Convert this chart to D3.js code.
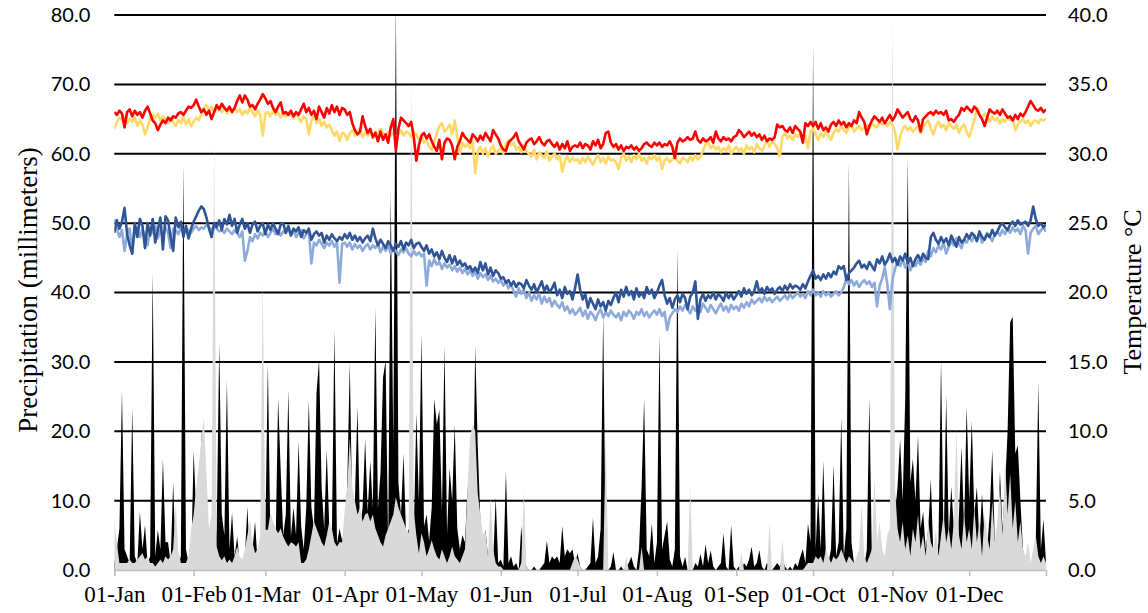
<!DOCTYPE html>
<html>
<head>
<meta charset="utf-8">
<script src="https://cdn.jsdelivr.net/npm/d3@7"></script>
<style>
  html, body { margin: 0; padding: 0; background: #fff; }
  svg { display: block; }
  .yLabels text { font-family: Lato, "Open Sans", sans-serif; font-size: 20px; fill: #000; }
  .xAxis text { font-family: "Liberation Serif", "Times New Roman", serif; font-size: 23px; fill: #000; }
  .axisTitle { font-family: "Liberation Serif", "Times New Roman", serif; font-size: 26px; fill: #000; }
</style>
</head>
<body>
<svg id="chart" width="1148" height="613"></svg>
<script>
/* global d3 */

// Daily values for one year, one row per month (Jan..Dec).
const PRECIP_TICKS = [0, 10, 20, 30, 40, 50, 60, 70, 80];
const TEMP_TICKS = [0, 5, 10, 15, 20, 25, 30, 35, 40];

// Precipitation, millimeters (left axis)
const RAIN_BLACK = [
  1,3,6,26,3,2,1,23.5,2,1,8.4,3,6.5,1,2,43,2,5.8,3,16,4,4,1,12.7,1,0.5,2,58.6,3,1,0.5,
  17.3,8,3,20.2,4,2,1,3,1,6,32.7,8,5,27.4,3,8.2,2,4.8,1,0.5,2,9.1,1,3,7,1,0.5,2,
  5,29.8,4,6.3,3,24.8,14.4,5,8,26,4.8,9,5,18.5,6.3,3,9,24.5,9,6,25.5,30.3,12,6,17.3,6,5,34.6,3.8,6,4.2,
  6,12,29.9,7.3,10,23.6,5.8,9,18.9,8.4,15.7,9,37.8,8.9,14,27.8,30.2,3.1,54.6,17.8,82,12.6,8,16.8,4.7,6,3,5,22.6,10,
  34.1,6.3,8,4.2,9,24.7,21,23.1,8.4,32.3,5.2,14.7,10,21,6,3,5,4,12,3,5,32.3,17.8,7.3,4,5.8,2,4.2,1,10.5,1,
  1.5,0.5,14.2,1,2,0.5,1,0,6.3,1,0.5,0,0,0.5,0,0,0.5,1,4.2,1,2,1.5,2,1,6.3,2,3,2.4,3,1,
  2.4,0.5,0,0,0.5,1,7.5,1,1.9,6,37,2,0,0.5,2.6,0,0,0.5,0,0.5,1,1.9,0.5,0,3,12,24.7,3,2,6.7,1,
  4,33.9,3,5,7,1.5,0.5,3,46.5,2,0.5,1.9,0,0.5,0,1,0.5,2.3,0.5,3.7,1,2.8,0.5,0,0.5,1,5.3,0.5,0,6.5,0.5,
  0,0.5,0,1,0.5,1.5,3.4,0.5,1,2.9,0.5,0,1,0.5,0,0.5,1,0.5,1.5,0.5,0,0.5,0,1,0.5,1.9,3,1,6.7,4,
  75.8,3,11,3,15.7,2,1,3,15.2,2,4,22,2,6,58.8,4,1,0.5,1,1,0.5,3,24.9,1,0.5,0,1,0.5,0,0.5,2,
  5,8,12,18.9,10,24.7,59.3,12.6,16,10,19.4,6,8.4,3,6,13.1,2,1,4,30.4,3,25.2,5,12,6,4,8,17.8,6,23.6,
  10,21.5,8,12,4,11,5,3,8,17.3,4,2,14.2,6,12,20,35.7,36.5,16.8,18,10,3,1,2,0.5,1,4,27,3,7.3,1,
];

const RAIN_GRAY = [
  7,4,1,1,1,1,1.5,1,1,1.5,2,2.4,1.5,2,1,1,0.5,1,1.5,1,2,1.5,2,3,9.6,3,1,1,1,2,5.8,
  8,12,15,18.7,22,14,6,8,62,3.4,2,1.4,2,1,1.5,1,2,3.4,2,1.5,3,5,7.2,4,2.4,3,5,42,
  5.8,5.8,8.2,7,6,5.3,6,4.8,4,3.4,4,3.8,3.4,4,1,1,1.5,3,5,7,6,5,4,3.4,5,7,6,4,3.4,4,4,
  8.6,12,19,12,10,8,9,7,8,8.2,7,8,6,5,4,3.4,5,6,7,8,10.5,9,8,7,6,5.3,71,8.6,5,2.4,
  5.3,4,2,3,4.3,3,2,1.5,3,2,1,2,3.4,2,1.5,1,2,3,12,19.2,21,20,11,8,5,5.8,2,10.5,3,1,0.5,
  0.5,0,0,0,0,0,0,0,1,11.5,0.5,0,0,0,0,0,0,0,0,0,0,0,0,0,0,0,0,0,1,2,
  1.5,0.5,0,0,0,0,0,0,0,0,0,19.7,0,0,0,0,0,0,0,1.9,0,0,0,0,0,3.3,0,0,0,0,0,
  0,0,0,0,0,0,0,0,0,0,0,0,0,12,0,0,0,0,0,0,0,0,0,0,0,0,0,0,0,0,0,
  0,0,2.6,0,0,0,0,0,0,0,0,0,0,6.7,0,0,0,0,4.3,0,0,0,0,0,0,0,0,0.5,1,1,
  1,2,1.5,2,1,3,2,1,2,1.5,2,3,2,1,2,1.5,1,2,3,9.4,2,1,2,3,13.6,4,7,3,2,5,6,
  80,12,6,4,7,3,5,2,6,4,8,3,5,2,7,4,3,6,2,5,8,4,6,3,7,20.5,5,3,8,4,
  6,3,9,4,7,2,8,5,3,10,4,7,12,5,16,8,14,6,10,4,7,3,2,4,1,3,5,2,1,2,1,
];

// Temperature, °C (right axis)
const TEMP_RED = [
  33.0,32.8,33.1,32.9,31.9,33.0,33.2,32.7,33.1,32.8,33.0,32.6,33.1,33.4,32.9,32.4,32.2,31.7,32.1,32.4,32.2,32.6,32.4,32.7,32.6,32.9,33.0,32.8,33.1,33.4,33.3,
  33.5,33.9,33.4,33.0,33.2,32.8,33.1,32.5,33.0,33.5,33.2,33.6,33.3,33.1,33.4,33.0,33.3,33.8,34.2,33.7,34.2,33.9,33.4,33.5,33.2,33.6,33.9,34.3,
  34.0,33.6,33.8,33.3,33.0,33.4,33.7,32.9,33.0,32.8,33.1,32.7,33.0,32.8,33.2,33.6,33.0,33.3,32.8,33.1,32.5,33.4,33.0,32.6,33.3,32.9,33.5,33.0,33.4,32.8,33.3,
  33.2,32.8,33.0,32.2,31.7,31.4,31.6,32.7,32.0,31.5,31.8,31.2,31.5,30.9,31.6,31.0,31.4,30.8,31.9,32.5,30.2,31.8,32.6,32.4,32.2,32.0,32.3,31.2,29.5,30.6,
  31.3,31.5,31.1,31.4,30.9,30.5,30.2,31.0,29.6,30.8,31.1,31.0,30.6,29.6,30.5,30.9,31.5,31.2,31.0,30.8,31.4,31.2,30.9,31.3,31.0,31.5,31.2,30.9,31.7,31.4,31.1,
  30.6,30.3,30.2,30.8,31.0,31.2,31.5,30.9,30.6,30.3,30.8,31.0,31.1,30.7,30.9,31.2,30.8,30.6,30.9,31.0,30.7,30.5,30.8,30.3,30.7,30.4,30.9,30.2,30.5,30.6,
  30.5,30.8,30.4,30.7,30.6,30.3,30.9,30.6,31.0,30.4,30.7,31.5,31.6,30.8,30.5,30.7,30.3,30.6,30.2,30.5,30.4,30.6,30.3,30.5,30.2,30.4,30.7,30.8,30.6,30.5,30.8,
  30.6,30.8,30.5,30.7,30.6,30.9,30.5,29.7,30.8,31.1,30.9,31.0,31.2,31.0,31.1,31.6,31.0,30.8,31.1,30.9,31.0,31.2,30.8,31.6,31.1,30.9,31.2,31.0,31.1,30.9,31.2,
  31.3,31.7,31.5,31.2,31.4,31.6,31.3,31.5,31.2,31.4,31.0,31.3,30.9,31.1,31.0,31.2,32.1,31.9,32.0,31.7,31.6,31.9,31.5,32.0,31.8,31.6,30.8,32.2,32.0,32.3,
  32.0,32.3,31.8,32.2,31.7,31.9,31.6,32.1,32.3,32.0,32.4,32.1,32.3,31.9,32.2,32.0,32.4,32.2,33.0,32.6,32.3,31.4,32.0,32.4,32.7,32.5,32.3,32.6,32.2,32.5,32.8,
  32.4,32.7,33.2,32.9,32.6,32.8,33.0,32.5,32.3,32.7,32.4,31.6,32.5,32.7,32.9,33.0,32.8,33.1,32.9,33.0,32.8,33.1,32.4,32.5,32.3,32.6,32.8,33.3,33.1,33.4,
  33.2,33.0,33.4,33.2,32.8,32.5,32.0,32.6,33.2,33.0,32.9,33.1,32.8,33.2,32.9,32.6,32.7,32.4,32.8,32.5,32.9,32.7,33.0,33.4,33.8,33.5,33.2,33.1,33.3,33.0,33.2,
];

const TEMP_YELLOW = [
  31.8,32.3,32.6,32.4,32.7,32.2,32.5,32.3,32.6,32.0,32.4,32.1,31.4,31.9,32.5,32.8,32.6,32.9,32.4,32.7,32.5,32.2,32.6,32.3,32.0,32.4,32.2,32.7,32.1,32.5,32.0,
  32.3,32.6,32.4,32.9,33.3,33.5,33.1,33.4,33.0,33.2,33.4,33.0,33.3,32.9,33.2,33.1,33.3,33.0,33.2,32.8,33.1,32.9,33.3,33.0,32.7,33.1,32.8,31.3,
  32.9,33.0,32.7,33.1,32.8,33.0,32.6,32.9,32.7,33.0,32.8,32.5,32.9,32.6,32.3,32.7,32.5,31.4,32.4,32.7,32.2,32.5,32.0,32.3,31.9,32.1,31.7,31.3,31.6,30.9,31.5,
  31.4,31.0,31.5,31.7,31.3,31.6,31.8,31.2,31.5,31.3,31.7,31.1,31.6,31.4,31.8,31.5,31.2,31.6,31.3,31.5,31.1,31.4,31.7,31.3,31.6,31.5,31.2,31.6,31.4,31.0,
  31.3,30.8,31.0,30.5,30.3,30.9,31.5,32.0,32.2,31.6,31.8,32.1,31.4,32.4,31.2,30.0,30.8,30.5,30.7,30.4,30.9,28.6,30.2,30.5,30.0,30.4,29.8,30.3,30.6,30.0,30.2,
  30.4,30.0,30.7,31.0,30.6,30.8,30.3,30.5,30.1,30.6,30.2,30.0,29.8,30.3,29.6,30.1,29.9,29.7,30.2,29.5,29.8,30.0,29.6,29.9,28.7,29.5,29.8,29.4,29.7,29.5,
  29.6,29.3,29.7,29.4,29.8,29.5,29.2,29.6,29.9,29.4,29.7,29.3,29.8,29.5,29.6,29.4,28.9,29.7,30.0,29.5,29.8,29.4,29.9,29.6,30.0,29.5,29.7,29.3,29.8,29.6,29.9,
  29.5,29.8,28.9,29.5,29.7,29.4,29.6,29.8,29.5,29.3,29.7,29.6,29.4,29.8,29.5,29.9,29.6,29.8,30.2,30.7,30.8,30.4,30.6,30.3,30.5,30.1,30.4,30.2,30.6,30.0,30.3,
  30.5,30.2,30.4,30.0,30.6,30.3,30.5,30.1,30.7,30.4,30.2,30.6,30.9,30.5,30.9,30.7,30.4,29.8,31.2,31.5,31.1,31.3,31.0,31.4,31.2,31.5,31.0,31.3,30.4,31.6,
  31.8,31.4,31.0,31.5,31.2,31.6,31.3,31.0,31.5,31.8,31.6,32.0,31.7,31.5,31.9,32.1,31.6,31.8,32.0,31.7,31.9,32.1,31.8,32.2,32.0,31.9,32.3,32.1,32.2,32.0,32.3,
  32.1,31.6,30.3,31.2,31.8,32.0,31.7,31.9,31.6,31.8,32.0,31.5,31.9,32.2,32.4,31.8,31.4,32.0,32.3,31.9,32.1,31.7,32.2,32.0,31.8,32.1,31.5,31.9,32.1,31.6,
  31.2,31.8,32.4,33.3,32.8,32.5,32.9,32.6,32.3,32.7,32.4,32.6,32.2,32.5,32.3,32.7,32.4,32.6,31.7,32.1,32.3,32.5,32.2,32.4,32.0,32.3,32.4,32.2,32.5,32.4,32.5,
];

const TEMP_DARKBLUE = [
  24.3,25.2,24.6,25.1,26.1,24.2,23.4,22.8,25.0,24.0,25.3,24.8,23.2,25.0,24.1,25.3,23.6,24.5,25.4,23.1,25.5,25.2,24.0,23.0,25.4,24.7,25.1,24.0,24.8,23.9,24.6,
  25.1,25.5,25.9,26.2,26.0,25.4,24.6,24.0,25.0,24.7,25.2,24.5,25.3,24.9,25.6,24.8,25.3,24.3,24.9,25.3,24.6,25.0,24.3,24.9,25.1,24.4,24.8,25.0,
  24.2,24.9,24.5,25.0,24.6,24.2,24.9,25.0,24.3,24.8,24.1,24.6,24.4,24.7,24.0,24.5,24.3,24.6,23.8,24.2,24.4,24.1,24.3,23.6,24.1,23.8,24.2,23.9,23.7,24.0,23.8,
  24.2,23.9,24.3,23.8,24.1,23.7,24.0,23.6,23.9,24.1,23.7,24.6,23.9,23.4,23.8,23.5,23.2,23.7,23.4,23.0,23.5,23.3,23.7,23.1,23.6,23.4,23.8,23.2,23.5,23.6,
  23.3,23.0,23.4,22.8,23.1,22.6,22.9,22.4,23.0,22.5,22.2,22.7,22.1,22.6,22.0,22.3,21.9,22.1,21.7,21.9,21.5,21.8,21.4,22.2,21.6,22.1,21.3,21.8,21.2,21.6,21.4,
  21.0,21.1,20.7,20.9,20.5,20.8,20.4,20.7,20.6,20.3,20.9,20.5,20.2,20.6,20.0,20.4,20.8,20.1,20.5,20.0,20.3,20.7,19.8,20.2,19.6,20.4,19.9,20.1,19.5,20.3,
  21.3,20.2,19.5,19.9,18.9,19.6,19.2,18.8,19.5,19.0,19.3,18.7,19.4,19.1,19.6,20.0,19.3,20.2,19.7,20.4,19.8,20.1,19.5,20.3,19.7,20.0,19.6,20.4,19.9,20.2,19.6,
  20.0,20.5,20.9,19.8,19.2,19.6,18.9,19.5,19.8,19.3,19.9,19.6,18.8,19.7,20.0,20.8,18.1,19.5,19.9,19.4,19.8,19.6,20.0,19.5,19.9,19.7,19.4,20.0,19.6,19.9,19.5,
  19.8,20.1,19.7,20.3,19.9,20.2,19.8,20.1,20.8,20.0,20.3,19.9,20.4,20.1,20.3,19.9,20.2,20.4,20.1,20.5,20.2,20.6,20.3,20.5,20.4,20.2,20.6,20.3,20.8,21.2,
  21.6,21.0,21.2,20.9,21.3,21.0,21.4,21.1,21.5,21.3,21.9,21.7,21.9,20.9,21.4,21.6,21.8,22.1,22.3,21.8,22.0,21.7,22.2,21.9,21.6,22.4,22.1,22.6,22.0,22.3,22.8,
  22.2,22.5,22.0,22.6,22.3,22.8,22.1,22.5,21.9,22.4,22.7,22.3,22.8,22.5,22.4,24.0,24.3,23.8,23.5,24.0,23.6,23.9,23.4,24.1,23.7,23.3,24.0,23.6,23.8,24.2,
  23.9,24.3,24.1,23.7,24.4,24.0,23.8,24.2,24.0,24.5,24.1,24.4,24.8,25.0,24.7,24.5,24.9,25.1,24.8,25.2,24.9,25.0,25.1,24.8,25.2,26.2,25.3,24.8,25.0,24.7,24.9,
];

const TEMP_LIGHTBLUE = [
  25.3,24.6,24.0,24.5,23.0,24.2,24.6,22.9,24.4,24.7,24.0,24.5,24.2,23.4,24.6,24.3,24.8,23.9,24.5,24.1,24.7,24.3,23.2,24.6,24.5,24.2,24.7,24.4,24.6,24.5,24.3,
  24.6,24.8,24.5,24.7,24.6,24.9,24.7,24.5,24.8,24.6,24.4,24.5,24.3,24.6,24.4,24.2,24.5,24.3,24.0,24.4,22.3,23.0,24.0,23.7,24.2,23.9,24.3,24.1,
  24.4,24.0,24.3,24.6,24.2,24.5,24.1,24.4,24.3,24.6,24.2,24.5,24.0,24.3,24.5,23.9,24.2,24.4,22.1,23.6,23.4,23.8,23.5,23.2,23.6,23.4,23.7,23.3,23.6,20.7,23.5,
  23.6,23.3,23.6,23.1,23.5,23.2,23.4,23.0,23.3,23.5,23.1,23.4,23.2,23.5,22.9,23.3,23.0,23.4,22.8,23.2,23.0,22.7,23.1,22.9,23.2,22.8,22.6,23.0,22.7,22.9,
  22.6,22.8,20.5,22.3,21.9,22.4,22.0,22.2,21.7,22.1,21.8,22.0,21.6,21.9,21.5,21.8,21.4,21.7,21.3,21.6,21.2,21.5,21.0,21.4,21.1,21.3,20.9,21.2,20.8,21.0,20.7,
  20.9,20.5,20.8,20.3,20.6,20.1,19.7,20.3,19.9,20.2,19.6,20.0,19.4,19.8,19.5,19.9,19.2,19.7,19.3,19.6,19.0,19.4,19.1,18.9,19.3,18.7,19.0,18.5,18.8,18.4,
  18.6,18.9,18.3,18.7,18.1,18.6,18.4,18.0,18.5,18.8,18.2,18.6,18.3,18.7,18.4,18.2,18.5,18.0,18.6,18.3,18.7,18.5,18.1,18.6,18.4,18.8,18.3,18.6,18.2,18.5,18.7,
  18.4,18.8,18.3,18.6,17.3,18.2,18.5,18.8,18.6,19.0,18.7,19.1,18.8,18.5,19.0,18.7,18.9,18.6,19.2,18.9,18.6,19.1,18.8,18.5,18.9,19.2,18.7,19.0,18.6,19.1,18.8,
  19.0,18.7,19.2,18.9,19.3,19.0,19.5,19.2,19.4,19.6,19.3,19.7,19.4,19.6,19.3,19.5,19.7,19.4,19.6,19.8,19.5,19.9,19.6,19.8,20.0,19.7,19.9,19.6,20.1,19.8,
  20.2,19.8,20.0,19.7,20.1,19.8,20.0,19.7,19.9,20.1,19.8,20.0,20.4,21.0,20.6,20.9,20.5,20.8,20.4,20.7,20.9,20.6,20.8,20.4,20.7,19.0,20.5,21.0,21.8,20.6,18.8,
  20.9,21.7,22.3,21.9,22.4,21.8,22.2,21.6,22.1,21.9,22.3,22.0,22.5,22.2,23.0,22.6,23.2,22.9,23.4,23.1,23.6,22.8,23.3,23.7,23.4,23.9,23.5,23.2,23.8,23.6,
  24.0,23.7,24.1,23.8,24.2,23.6,23.9,24.3,24.0,23.7,24.2,24.4,24.1,24.5,24.2,24.6,24.3,24.7,24.4,24.6,24.2,24.8,24.5,22.8,24.3,24.6,24.8,24.2,24.5,24.7,24.4,
];

function initChart() {
  const svg = d3.select("#chart");
  const plot = { left: 114.3, right: 1046, top: 15, bottom: 570 };

  const yearStart = new Date(Date.UTC(2021, 0, 1));
  const dayDate = (i) => d3.utcDay.offset(yearStart, i);

  const x = d3
    .scaleUtc()
    .domain([yearStart, dayDate(364)])
    .range([plot.left, plot.right]);
  const yRain = d3.scaleLinear().domain([0, 80]).range([plot.bottom, plot.top]);
  const yTemp = d3.scaleLinear().domain([0, 40]).range([plot.bottom, plot.top]);

  svg
    .append("defs")
    .append("clipPath")
    .attr("id", "plotClip")
    .append("rect")
    .attr("x", plot.left)
    .attr("y", plot.top)
    .attr("width", plot.right - plot.left)
    .attr("height", plot.bottom - plot.top);

  // Gridlines (behind the series)
  svg
    .append("g")
    .selectAll("line")
    .data(PRECIP_TICKS.filter((t) => t > 0))
    .join("line")
    .attr("x1", plot.left)
    .attr("x2", plot.right)
    .attr("y1", (d) => yRain(d))
    .attr("y2", (d) => yRain(d))
    .attr("stroke", "#000")
    .attr("stroke-width", 2);

  const series = svg.append("g").attr("clip-path", "url(#plotClip)");

  const area = d3
    .area()
    .x((d, i) => x(dayDate(i)))
    .y0(yRain(0))
    .y1((d) => yRain(d));

  series.append("path").datum(RAIN_BLACK).attr("d", area).attr("fill", "#000");
  series.append("path").datum(RAIN_GRAY).attr("d", area).attr("fill", "#d9d9d9");

  const line = d3
    .line()
    .x((d, i) => x(dayDate(i)))
    .y((d) => yTemp(d));

  [
    [TEMP_LIGHTBLUE, "#8eaadb"],
    [TEMP_DARKBLUE, "#2f5597"],
    [TEMP_YELLOW, "#ffd966"],
    [TEMP_RED, "#ff0000"],
  ].forEach(([values, color]) => {
    series
      .append("path")
      .datum(values)
      .attr("d", line)
      .attr("fill", "none")
      .attr("stroke", color)
      .attr("stroke-width", 2.6)
      .attr("stroke-linejoin", "round");
  });

  // X axis: month starts
  const xAxis = svg
    .append("g")
    .attr("class", "xAxis")
    .attr("transform", `translate(0,${plot.bottom})`)
    .call(
      d3
        .axisBottom(x)
        .ticks(d3.utcMonth.every(1))
        .tickFormat(d3.utcFormat("%d-%b"))
        .tickSize(6)
        .tickPadding(10),
    );
  xAxis.select(".domain").attr("stroke", "#bfbfbf").attr("stroke-width", 1.5);
  xAxis.selectAll(".tick line").attr("stroke", "#bfbfbf").attr("stroke-width", 1.5);
  xAxis.selectAll("text").attr("font-family", null).attr("font-size", null);

  const fmt = d3.format(".1f");

  const leftAxis = svg
    .append("g")
    .attr("class", "yLabels")
    .attr("transform", `translate(${plot.left},0)`)
    .call(d3.axisLeft(yRain).tickValues(PRECIP_TICKS).tickFormat(fmt).tickSize(0).tickPadding(24));
  leftAxis.select(".domain").remove();
  leftAxis.selectAll("text").attr("font-family", null).attr("font-size", null);

  const rightAxis = svg
    .append("g")
    .attr("class", "yLabels")
    .attr("transform", `translate(${plot.right},0)`)
    .call(d3.axisRight(yTemp).tickValues(TEMP_TICKS).tickFormat(fmt).tickSize(0).tickPadding(22));
  rightAxis.select(".domain").remove();
  rightAxis.selectAll("text").attr("font-family", null).attr("font-size", null);

  // Axis titles
  svg
    .append("text")
    .attr("class", "axisTitle")
    .attr("transform", "translate(37,290) rotate(-90)")
    .attr("text-anchor", "middle")
    .style("font-size", "27px")
    .text("Precipitation (millimeters)");

  svg
    .append("text")
    .attr("class", "axisTitle")
    .attr("transform", "translate(1141,292) rotate(-90)")
    .attr("text-anchor", "middle")
    .text("Temperature °C");
}

initChart();
</script>
</body>
</html>
